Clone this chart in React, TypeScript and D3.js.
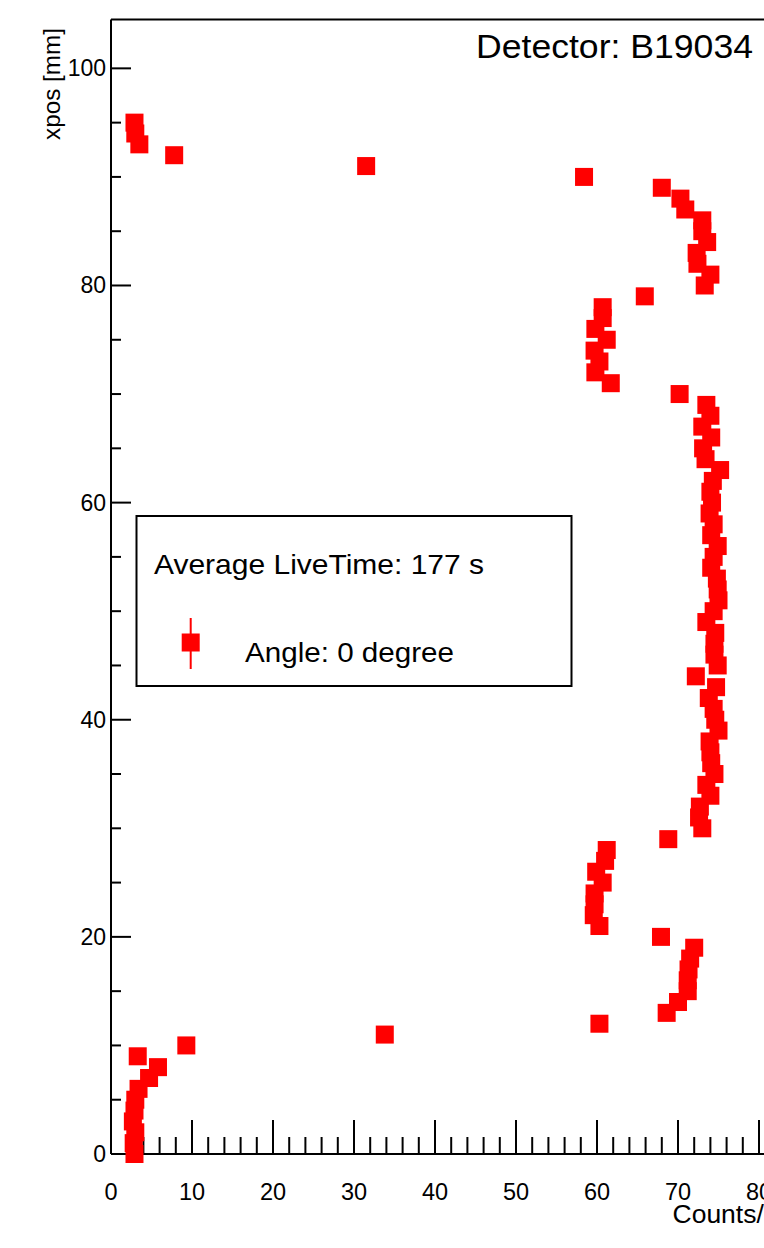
import React from "react";
import * as d3 from "d3";

const xposValues = [
  0, 1, 2, 3, 4, 5, 6, 7, 8, 9, 10, 11, 12, 13, 14, 15, 16, 17, 18, 19,
  20, 21, 22, 23, 24, 25, 26, 27, 28, 29, 30, 31, 32, 33, 34, 35, 36, 37, 38, 39,
  40, 41, 42, 43, 44, 45, 46, 47, 48, 49, 50, 51, 52, 53, 54, 55, 56, 57, 58, 59,
  60, 61, 62, 63, 64, 65, 66, 67, 68, 69, 70, 71, 72, 73, 74, 75, 76, 77, 78, 79,
  80, 81, 82, 83, 84, 85, 86, 87, 88, 89, 90, 91, 92, 93, 94, 95,
];
const countsValues = [
  2.9, 2.8, 3.0, 2.7, 2.9, 3.0, 3.4, 4.7, 5.8, 3.3, 9.3, 33.8, 60.3, 68.6, 70.0, 71.2, 71.2, 71.3, 71.5, 72.0,
  67.9, 60.3, 59.6, 59.7, 59.7, 60.7, 59.9, 61.0, 61.2, 68.8, 73.0, 72.6, 72.7, 74.0, 73.5, 74.5, 74.1, 74.0, 73.9, 75.0,
  74.6, 74.4, 73.8, 74.7, 72.2, 74.9, 74.5, 74.5, 74.6, 73.5, 74.4, 75.0, 74.9, 74.8, 74.1, 74.4, 74.9, 74.1, 74.4, 73.9,
  74.2, 74.0, 74.3, 75.2, 73.4, 73.1, 74.1, 73.0, 74.0, 73.5, 70.2, 61.7, 59.8, 60.3, 59.7, 61.2, 59.8, 60.7, 60.7, 65.9,
  73.3, 74.0, 72.4, 72.3, 73.6, 73.0, 73.0, 70.9, 70.3, 68.0, 58.4, 31.5, 7.8, 3.5, 3.0, 2.9,
];
const xMajorTicks = [0, 10, 20, 30, 40, 50, 60, 70, 80, 90, 100];
const yMajorTicks = [0, 20, 40, 60, 80, 100];

const title = "Detector: B19034";
const xTitle = "Counts/s";
const yTitle = "xpos [mm]";
const legendHeader = "Average LiveTime: 177 s";
const legendEntry = "Angle: 0 degree";

const FONT = "'Liberation Sans', Arial, Helvetica, sans-serif";
const RED = "#ff0000";

export default function App() {
  const W = 764;
  const H = 1248;
  const x = d3.scaleLinear().domain([0, 100]).range([111, 921]);
  const y = d3.scaleLinear().domain([0, 104.5]).range([1154, 19.5]);

  const xMinor = d3.range(0, 101, 2).filter((v) => v % 10 !== 0);
  const yMinor = d3.range(0, 105, 5).filter((v) => v % 20 !== 0);
  const ms = 18;

  const pts = xposValues.map((yv, i) => ({ xv: countsValues[i], yv }));

  return (
    <div style={{ position: "absolute", left: 0, top: 0, width: W, height: H, overflow: "hidden", background: "#fff" }}>
      <svg width={W} height={H} style={{ display: "block" }} fontFamily={FONT}>
        <rect x={0} y={0} width={W} height={H} fill="#fff" />
        {/* frame */}
        <line x1={x(0)} x2={W + 10} y1={y(104.5)} y2={y(104.5)} stroke="#000" strokeWidth={2} />
        <line x1={x(0)} x2={x(0)} y1={y(104.5)} y2={y(0)} stroke="#000" strokeWidth={2} />
        <line x1={x(0)} x2={W + 10} y1={y(0)} y2={y(0)} stroke="#000" strokeWidth={2} />
        {/* x ticks */}
        {xMajorTicks.map((t) => (
          <g key={"xM" + t}>
            <line x1={x(t)} x2={x(t)} y1={y(0)} y2={y(0) - 34} stroke="#000" strokeWidth={2} />
            <text x={x(t)} y={1200} textAnchor="middle" fontSize={23.5}>{t}</text>
          </g>
        ))}
        {xMinor.map((t) => (
          <line key={"xm" + t} x1={x(t)} x2={x(t)} y1={y(0)} y2={y(0) - 17} stroke="#000" strokeWidth={2} />
        ))}
        {/* y ticks */}
        {yMajorTicks.map((t) => (
          <g key={"yM" + t}>
            <line x1={x(0)} x2={x(0) + 20} y1={y(t)} y2={y(t)} stroke="#000" strokeWidth={2} />
            <text x={106} y={y(t) + 8} textAnchor="end" fontSize={23}>{t}</text>
          </g>
        ))}
        {yMinor.map((t) => (
          <line key={"ym" + t} x1={x(0)} x2={x(0) + 10} y1={y(t)} y2={y(t)} stroke="#000" strokeWidth={2} />
        ))}
        {/* points */}
        {pts.map((p, i) => (
          <rect key={i} x={x(p.xv) - ms / 2} y={y(p.yv) - ms / 2} width={ms} height={ms} fill={RED} />
        ))}
        {/* titles */}
        <text x={476} y={58} fontSize={33} textLength={277} lengthAdjust="spacingAndGlyphs">{title}</text>
        <text x={672.5} y={1223} fontSize={26.5}>{xTitle}</text>
        <text transform="translate(60,140) rotate(-90)" fontSize={24} textLength={112} lengthAdjust="spacingAndGlyphs">{yTitle}</text>
        {/* legend */}
        <rect x={136.5} y={516} width={435} height={170} fill="#fff" stroke="#000" strokeWidth={2} />
        <text x={154} y={574} fontSize={28} textLength={330} lengthAdjust="spacingAndGlyphs">{legendHeader}</text>
        <line x1={190.7} x2={190.7} y1={618} y2={669} stroke={RED} strokeWidth={2} />
        <rect x={181.7} y={633.5} width={18} height={18} fill={RED} />
        <text x={245} y={662} fontSize={28} textLength={209} lengthAdjust="spacingAndGlyphs">{legendEntry}</text>
      </svg>
    </div>
  );
}
